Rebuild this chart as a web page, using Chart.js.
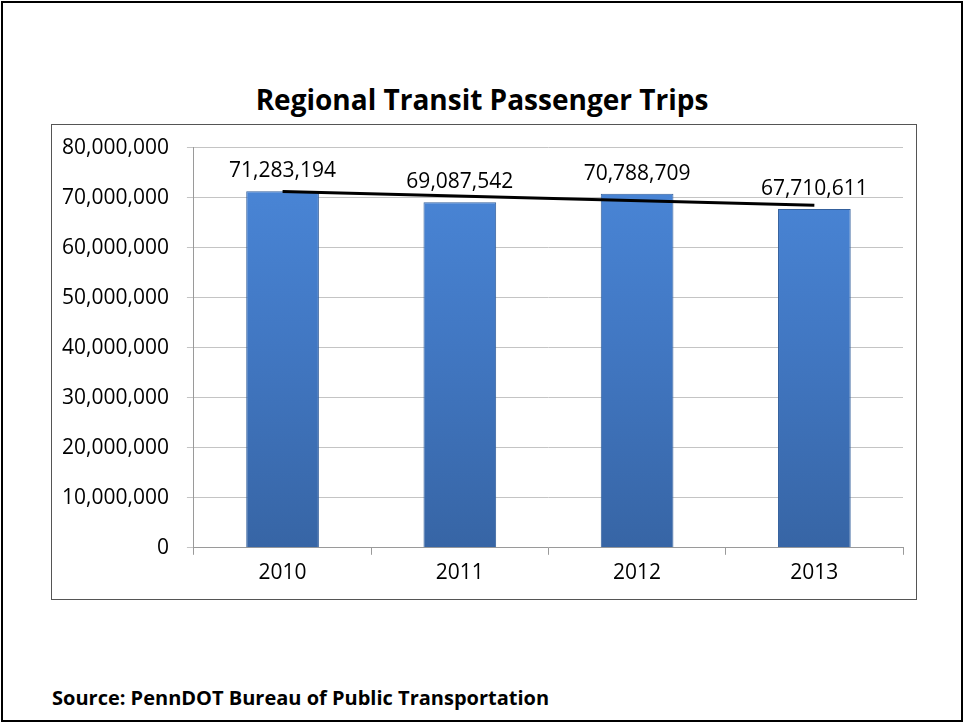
<!DOCTYPE html>
<html>
<head>
<meta charset="utf-8">
<script src="https://cdn.jsdelivr.net/npm/chart.js@4.4.1/dist/chart.umd.min.js"></script>
<style>
  body { margin: 0; background: #fff; font-family: "Open Sans", sans-serif; }
  #page { position: absolute; left: 1px; top: 1px; width: 958px; height: 717px; border: 2px solid #000; }
  #title { position: absolute; left: 0; top: 80px; width: 964px; text-align: center; font-weight: bold; font-size: 28px; color: #000; }
  #box { position: absolute; left: 51px; top: 124px; width: 864px; height: 474px; border: 1px solid #555; }
  #wrap { position: absolute; left: 36px; top: 117px; width: 880px; height: 482px; }
  #source { position: absolute; left: 52px; top: 684px; font-weight: bold; font-size: 20px; color: #000; }
</style>
</head>
<body>
<div id="page"></div>
<div id="title">Regional Transit Passenger Trips</div>
<div id="box"></div>
<div id="wrap"><canvas id="chart"></canvas></div>
<div id="source">Source: PennDOT Bureau of Public Transportation</div>
<script>
// values
let years = ['2010', '2011', '2012', '2013'];
let trips = [71283194, 69087542, 70788709, 67710611];
// linear trendline ends (first and last year)
let trendEnds = [71200000, 68500000];
let yTicks = [0, 10000000, 20000000, 30000000, 40000000, 50000000, 60000000, 70000000, 80000000];

function fmt(v) { return v.toLocaleString('en-US'); }

let barLabels = {
  id: 'barLabels',
  afterDatasetsDraw(chart) {
    let ctx = chart.ctx;
    let meta = chart.getDatasetMeta(1);
    ctx.save();
    ctx.font = '21px "Open Sans"';
    ctx.fillStyle = '#000';
    ctx.textAlign = 'center';
    ctx.textBaseline = 'middle';
    meta.data.forEach((bar, i) => {
      ctx.fillText(fmt(trips[i]), bar.x, bar.y - 20);
    });
    ctx.restore();
  }
};

function barFill(context) {
  let area = context.chart.chartArea;
  if (!area) return '#4680cc';
  let g = context.chart.ctx.createLinearGradient(0, area.top, 0, area.bottom);
  g.addColorStop(0, '#4b88da');
  g.addColorStop(0.5, '#4177c2');
  g.addColorStop(1, '#3765a5');
  return g;
}

function draw() {
  let ctx = document.getElementById('chart').getContext('2d');
  new Chart(ctx, {
    data: {
      labels: years,
      datasets: [
        {
          type: 'line',
          data: [{ x: years[0], y: trendEnds[0] }, { x: years[years.length - 1], y: trendEnds[1] }],
          borderColor: '#000',
          borderWidth: 3,
          pointRadius: 0,
          order: 0
        },
        {
          type: 'bar',
          data: trips,
          backgroundColor: barFill,
          borderColor: '#34609c',
          borderWidth: 1,
          categoryPercentage: 1,
          barPercentage: 0.41,
          order: 1
        }
      ]
    },
    options: {
      responsive: true,
      maintainAspectRatio: false,
      animation: false,
      layout: { padding: { left: 8, right: 13, top: 2, bottom: 7 } },
      plugins: { legend: { display: false }, tooltip: { enabled: false }, title: { display: false } },
      scales: {
        x: {
          grid: { drawOnChartArea: false, color: '#9a9a9a', tickLength: 7, offset: true },
          border: { color: '#9a9a9a' },
          ticks: { font: { family: 'Open Sans', size: 21 }, color: '#000', padding: 6 }
        },
        y: {
          min: 0,
          max: 80000000,
          afterBuildTicks: axis => { axis.ticks = yTicks.map(v => ({ value: v })); },
          grid: { color: '#c4c4c4', tickLength: 7 },
          border: { color: '#9a9a9a' },
          ticks: { font: { family: 'Open Sans', size: 21 }, color: '#000', padding: 18, callback: v => fmt(v) }
        }
      }
    },
    plugins: [barLabels]
  });
}

document.fonts.load('21px "Open Sans"').then(draw, draw);
</script>
</body>
</html>
